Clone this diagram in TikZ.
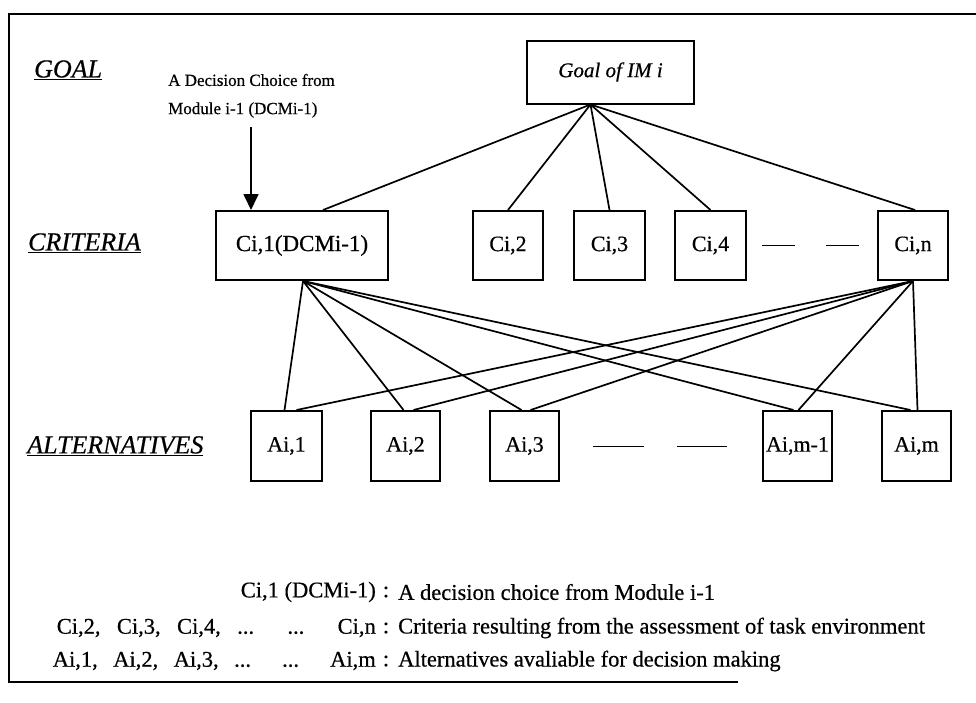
\documentclass[tikz,border=0pt]{standalone}
\usepackage{fontspec}
\setmainfont{Liberation Serif}[FakeBold=0.5]
\usetikzlibrary{arrows.meta,calc}
\begin{document}
\begin{tikzpicture}[x=1pt,y=-1pt,
  box/.style={draw,line width=2pt,inner sep=0pt,minimum height=69pt,
              font=\fontsize{22}{24}\selectfont},
  link/.style={line width=1.7pt},
  gap/.style={line width=0.8pt},
  rowlabel/.style={anchor=west,inner sep=0pt,font=\fontsize{26}{28}\selectfont\itshape},
  note/.style={inner sep=0pt,font=\fontsize{17}{19}\selectfont},
  key/.style={inner sep=0pt,font=\fontsize{22.5}{24}\selectfont}]
\useasboundingbox[fill=white] (0,0) rectangle (976,702);

% open frame
\draw[line width=2.6pt] (976,14) -- (9,14) -- (9,682) -- (738,682);

% row labels
\node[rowlabel] (lgoal) at (34,70) {\underline{GOAL}};
\node[rowlabel] (lcrit) at (28,243) {\underline{CRITERIA}};
\node[rowlabel] (lalt)  at (27,446) {\underline{ALTERNATIVES}};

% goal
\node[box,minimum width=167pt,minimum height=63pt,font=\fontsize{21}{23}\selectfont\itshape]
  (goal) at (610.5,72) {Goal of IM i};

% criteria
\node[box,minimum width=172pt,font=\fontsize{23}{25}\selectfont] (c1) at (302,245.5) {Ci,1(DCMi-1)};
\node[box,minimum width=70pt] (c2) at (508,245.5) {Ci,2};
\node[box,minimum width=71pt] (c3) at (609.5,245.5) {Ci,3};
\node[box,minimum width=71pt] (c4) at (710.5,245.5) {Ci,4};
\node[box,minimum width=70pt] (cn) at (913,245.5) {Ci,n};

% alternatives
\node[box,minimum width=71pt,minimum height=70pt] (a1) at (286.5,446) {Ai,1};
\node[box,minimum width=69pt,minimum height=70pt] (a2) at (405.5,446) {Ai,2};
\node[box,minimum width=69pt,minimum height=70pt] (a3) at (524.5,446) {Ai,3};
\node[box,minimum width=69pt,minimum height=70pt] (am1) at (797.5,446) {Ai,m-1};
\node[box,minimum width=69pt,minimum height=70pt] (am) at (916.5,446) {Ai,m};

% ellipsis dashes
\draw[gap] ($(c4.east)+(15,0)$) -- ($(c4.east)+(48,0)$);
\draw[gap] ($(cn.west)+(-51,0)$) -- ($(cn.west)+(-18,0)$);
\draw[gap] ($(a3.east)+(33,0)$) -- ($(a3.east)+(84,0)$);
\draw[gap] ($(am1.west)+(-85,0)$) -- ($(am1.west)+(-35,0)$);

% goal to criteria
\coordinate (gb) at ($(goal.south)+(-20,0)$);
\draw[link] (gb) -- ($(c1.north)+(21,0)$);
\draw[link] (gb) -- (c2.north);
\draw[link] (gb) -- (c3.north);
\draw[link] (gb) -- (c4.north);
\draw[link] (gb) -- ($(cn.north)+(2,0)$);

% criteria to alternatives
\coordinate (c1b) at ($(c1.south)+(1,0)$);
\coordinate (cnb) at (cn.south);
\draw[link] (c1b) -- ($(a1.north)+(-2,0)$);
\draw[link] (c1b) -- ($(a2.north)+(-2,0)$);
\draw[link] (c1b) -- ($(a3.north)+(-3,0)$);
\draw[link] (c1b) -- ($(am1.north)+(-4,0)$);
\draw[link] (c1b) -- ($(am.north)+(-6,0)$);
\draw[link] (cnb) -- ($(a1.north)+(10,0)$);
\draw[link] (cnb) -- ($(a2.north)+(8,0)$);
\draw[link] (cnb) -- ($(a3.north)+(6,0)$);
\draw[link] (cnb) -- ($(am1.north)+(1,0)$);
\draw[link] (cnb) -- ($(am.north)+(1,0)$);

% decision choice annotation
\node[note,anchor=west] (dc1) at (168,80) {A Decision Choice from};
\node[note,anchor=west] (dc2) at (168,110) {Module i-1 (DCMi-1)};
\coordinate (arrtop) at (251,127);
\draw[link,-{Triangle[length=16pt,width=15pt]}] (arrtop) -- (arrtop |- c1.north);

% legend
\node[key,anchor=east] (k1) at (376,592) {Ci,1 (DCMi-1)};
\node[key] (k1c) at (386,592) {:};
\node[key,anchor=west] (k1t) at (398,592) {A decision choice from Module i-1};
\node[key,anchor=east] (k2) at (376,628) {\makebox[319pt][s]{Ci,2, Ci,3, Ci,4, ... ... Ci,n}};
\node[key] (k2c) at (386,628) {:};
\node[key,anchor=west] (k2t) at (398,628) {Criteria resulting from the assessment of task environment};
\node[key,anchor=east] (k3) at (376,661) {\makebox[323pt][s]{Ai,1, Ai,2, Ai,3, ... ... Ai,m}};
\node[key] (k3c) at (386,661) {:};
\node[key,anchor=west] (k3t) at (398,661) {Alternatives avaliable for decision making};
\end{tikzpicture}
\end{document}
